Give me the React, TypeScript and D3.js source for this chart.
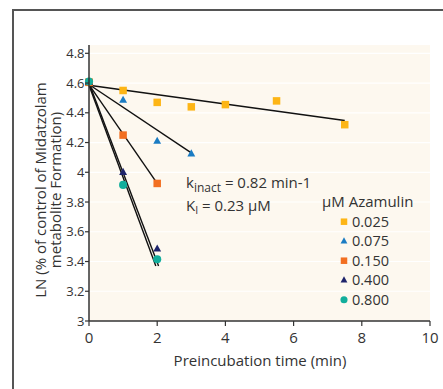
import React from "react";
import * as d3 from "d3";

const seriesNames = ["0.025", "0.075", "0.150", "0.400", "0.800"];
const seriesColors = ["#FDB515", "#1B7CC3", "#F26F21", "#1E246B", "#12AE9C"];
const seriesShapes = ["square", "triangle", "square", "triangle", "circle"];

const xs025 = [0, 1, 2, 3, 4, 5.5, 7.5];
const ys025 = [4.605, 4.55, 4.47, 4.44, 4.455, 4.48, 4.32];
const xs075 = [0, 1, 2, 3];
const ys075 = [4.605, 4.485, 4.21, 4.125];
const xs150 = [0, 1, 2];
const ys150 = [4.605, 4.25, 3.925];
const xs400 = [0, 1, 2];
const ys400 = [4.605, 4.0, 3.485];
const xs800 = [0, 1, 2];
const ys800 = [4.61, 3.915, 3.415];

// fitted lines: [x0, y0, x1, y1]
const fit025 = [0, 4.585, 7.5, 4.348];
const fit075 = [0, 4.59, 3, 4.13];
const fit150 = [0, 4.59, 2, 3.925];
const fit400 = [0, 4.6, 2.04, 3.37];
const fit800 = [0, 4.585, 1.96, 3.37];

const xTicks = [0, 2, 4, 6, 8, 10];
const yTicks = [3, 3.2, 3.4, 3.6, 3.8, 4, 4.2, 4.4, 4.6, 4.8];

const FONT = "'Open Sans', 'Noto Sans', sans-serif";

function Marker({ shape, x, y, color, size }: any) {
  if (shape === "square") {
    return <rect x={x - size / 2} y={y - size / 2} width={size} height={size} fill={color} />;
  }
  if (shape === "circle") {
    return <circle cx={x} cy={y} r={size / 2 + 0.3} fill={color} />;
  }
  const h = size * 0.95;
  const w = size * 1.05;
  return (
    <path
      d={`M${x},${y - h * 0.62} L${x + w / 2},${y + h * 0.38} L${x - w / 2},${y + h * 0.38} Z`}
      fill={color}
    />
  );
}

export default function App() {
  const W = 443;
  const H = 389;
  const x = d3.scaleLinear().domain([0, 10]).range([89, 430]);
  const y = d3.scaleLinear().domain([3, 4.8]).range([321, 53.3]);
  const yTop = y(4.855);

  const data = [
    { xs: xs025, ys: ys025, fit: fit025 },
    { xs: xs075, ys: ys075, fit: fit075 },
    { xs: xs150, ys: ys150, fit: fit150 },
    { xs: xs400, ys: ys400, fit: fit400 },
    { xs: xs800, ys: ys800, fit: fit800 },
  ];

  const line = d3.line<[number, number]>().x((d) => x(d[0])).y((d) => y(d[1]));

  const legendX = 344;
  const legendY0 = 221.7;
  const legendDy = 19.5;

  return (
    <svg
      width={W}
      height={H}
      style={{ position: "absolute", left: 0, top: 0, background: "#fff" }}
      fontFamily={FONT}
    >
      <rect x={0} y={0} width={W} height={H} fill="#fff" />
      {/* outer frame */}
      <path d={`M13,${H + 2} L13,10 L${W + 2},10`} fill="none" stroke="#555" strokeWidth={2} />

      {/* plot background */}
      <rect x={x(0)} y={yTop} width={x(10) - x(0)} height={y(3) - yTop} fill="#FDF8EF" />
      {yTicks
        .filter((t) => t > 3)
        .map((t) => (
          <line key={"g" + t} x1={x(0)} x2={x(10)} y1={y(t)} y2={y(t)} stroke="#fff" strokeWidth={1.2} />
        ))}

      {/* fit lines */}
      {data.map((s, i) => (
        <path
          key={"f" + i}
          d={line([
            [s.fit[0], s.fit[1]],
            [s.fit[2], s.fit[3]],
          ]) as string}
          stroke="#111"
          strokeWidth={1.4}
          fill="none"
        />
      ))}

      {/* markers */}
      {data.map((s, i) =>
        s.xs.map((xv, j) => (
          <Marker
            key={"m" + i + "-" + j}
            shape={seriesShapes[i]}
            x={x(xv)}
            y={y(s.ys[j])}
            color={seriesColors[i]}
            size={7.5}
          />
        ))
      )}

      {/* axes */}
      <line x1={x(0)} x2={x(0)} y1={yTop} y2={y(3)} stroke="#333" strokeWidth={1.5} />
      <line x1={x(0)} x2={x(10)} y1={y(3)} y2={y(3)} stroke="#333" strokeWidth={1.5} />
      {yTicks.map((t) => (
        <g key={"yt" + t}>
          <line x1={x(0) - 4} x2={x(0)} y1={y(t)} y2={y(t)} stroke="#333" strokeWidth={1.2} />
          <text x={x(0) - 4.5} y={y(t)} dy="0.35em" textAnchor="end" fontSize={13} fill="#333">
            {d3.format("~g")(t)}
          </text>
        </g>
      ))}
      {xTicks.map((t) => (
        <g key={"xt" + t}>
          <line x1={x(t)} x2={x(t)} y1={y(3)} y2={y(3) + 5} stroke="#333" strokeWidth={1.2} />
          <text x={x(t)} y={342.5} textAnchor="middle" fontSize={15} fill="#333">
            {t}
          </text>
        </g>
      ))}

      {/* axis titles */}
      <text x={260} y={365.5} textAnchor="middle" fontSize={15} fill="#333">
        Preincubation time (min)
      </text>
      <g transform="translate(41,190) rotate(-90)">
        <text x={0} y={0} dy="0.35em" textAnchor="middle" fontSize={15} fill="#333">
          LN (% of control of Midatzolam
        </text>
        <text x={0} y={14.5} dy="0.35em" textAnchor="middle" fontSize={15} fill="#333">
          metabolite Formation)
        </text>
      </g>

      {/* annotation */}
      <text x={186} y={188} fontSize={15} fill="#333">
        k<tspan fontSize={12} dy={4}>inact</tspan>
        <tspan dy={-4}> = 0.82 min-1</tspan>
      </text>
      <text x={186} y={211} fontSize={15} fill="#333">
        K<tspan fontSize={10.5} dy={3}>I</tspan>
        <tspan dy={-3}> = 0.23 μM</tspan>
      </text>

      {/* legend */}
      <text x={322} y={207} fontSize={15} fill="#333">
        μM Azamulin
      </text>
      {seriesNames.map((n, i) => (
        <g key={"l" + i}>
          <Marker
            shape={seriesShapes[i]}
            x={legendX}
            y={legendY0 + i * legendDy}
            color={seriesColors[i]}
            size={6.5}
          />
          <text x={352} y={legendY0 + i * legendDy} dy="0.36em" fontSize={14.5} fill="#333">
            {n}
          </text>
        </g>
      ))}
    </svg>
  );
}
